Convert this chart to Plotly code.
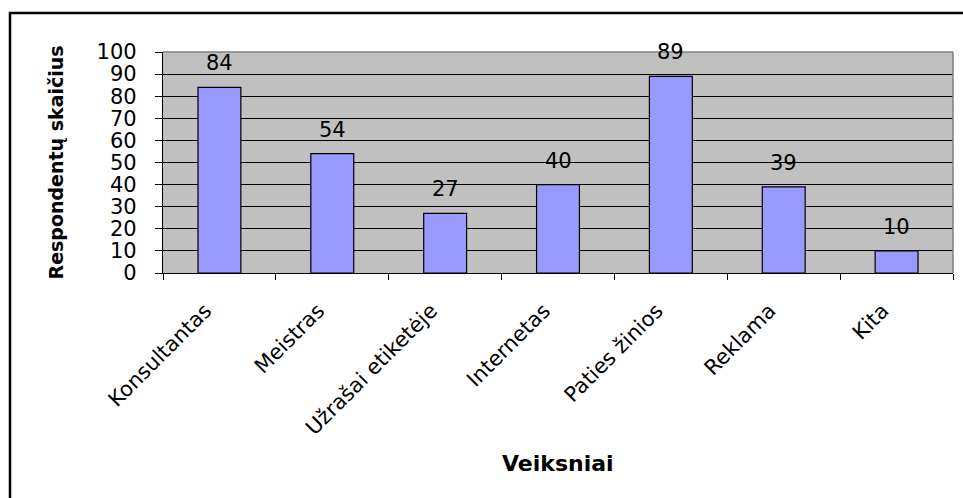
import plotly.graph_objects as go

categories = ["Konsultantas", "Meistras", "Užrašai etiketėje", "Internetas",
              "Paties žinios", "Reklama", "Kita"]
values = [84, 54, 27, 40, 89, 39, 10]
y_ticks = [0, 10, 20, 30, 40, 50, 60, 70, 80, 90, 100]
x_title = "Veiksniai"
y_title = "Respondentų skaičius"

W, H = 963, 498
L, R, T, B = 163, 10, 52, 225
PW, PH = W - L - R, H - T - B

def px_x(x):
    return (x - L) / PW

def px_y(y):
    return (H - B - y) / PH

FONT = "DejaVu Sans, Arial, sans-serif"

fig = go.Figure()
fig.add_trace(go.Bar(
    x=categories, y=values,
    marker=dict(color="#9999FF", line=dict(color="black", width=1.2)),
    hoverinfo="x+y",
))

annotations = []
for c, v in zip(categories, values):
    annotations.append(dict(
        x=c, y=v, xref="x", yref="y", text=str(v), showarrow=False,
        yanchor="bottom", yshift=10, font=dict(size=21, color="black", family=FONT),
    ))
annotations.append(dict(
    x=0.5, y=px_y(463), xref="paper", yref="paper", text="<b>" + x_title + "</b>",
    showarrow=False, xanchor="center", yanchor="middle",
    font=dict(size=22, color="black", family=FONT),
))
annotations.append(dict(
    x=px_x(55), y=0.5, xref="paper", yref="paper", text="<b>" + y_title + "</b>",
    showarrow=False, xanchor="center", yanchor="middle", textangle=-90,
    font=dict(size=19, color="black", family=FONT),
))

shapes = [
    # outer chart border (cropped on right and bottom)
    dict(type="rect", xref="paper", yref="paper",
         x0=px_x(10), x1=px_x(975), y0=px_y(510), y1=px_y(13),
         line=dict(color="black", width=2.5), layer="above"),
    # plot area top and right border (gray)
    dict(type="line", xref="paper", yref="paper", x0=0, x1=1, y0=1, y1=1,
         line=dict(color="#808080", width=1.5), layer="above"),
    dict(type="line", xref="paper", yref="paper", x0=1, x1=1, y0=0, y1=1,
         line=dict(color="#808080", width=1.5), layer="above"),
]

fig.update_layout(
    width=W, height=H, autosize=False,
    margin=dict(l=L, r=R, t=T, b=B, pad=0),
    paper_bgcolor="white", plot_bgcolor="#C0C0C0",
    bargap=0.62, showlegend=False,
    font=dict(family=FONT, color="black", size=21),
    annotations=annotations, shapes=shapes,
)
fig.update_xaxes(
    type="category", tickson="boundaries", ticks="outside", ticklen=6,
    tickcolor="black", tickwidth=1, tickangle=-45,
    showline=True, linecolor="black", linewidth=1.2, showgrid=False,
    ticklabelstandoff=16, ticklabelshift=-14,
    tickfont=dict(size=21, family=FONT, color="black"),
)
fig.update_yaxes(
    range=[0, 100], tickvals=y_ticks, ticks="outside", ticklen=7,
    tickcolor="black", tickwidth=1, showline=True, linecolor="black",
    linewidth=1.2, showgrid=True, gridcolor="black", gridwidth=1.2,
    zeroline=False, ticklabelstandoff=14,
    tickfont=dict(size=21, family=FONT, color="black"),
)

fig.write_html("out.html")
